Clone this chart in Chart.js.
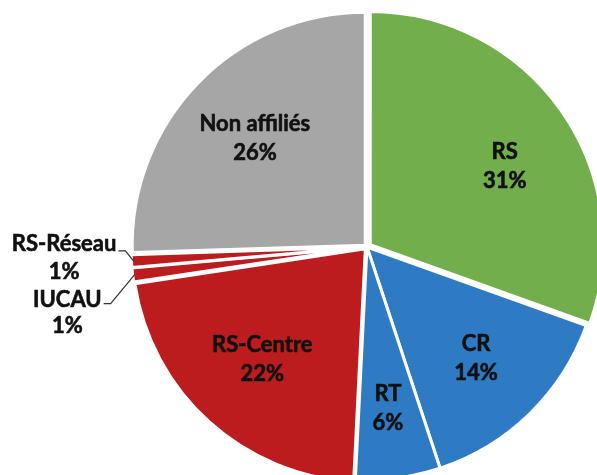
<!DOCTYPE html>
<html>
<head>
<meta charset="utf-8">
<script src="https://cdn.jsdelivr.net/npm/chart.js@4.4.1/dist/chart.umd.min.js"></script>
<style>
  html, body { margin: 0; padding: 0; width: 597px; height: 475px; overflow: hidden; background: #fff; }
  #wrap { position: absolute; left: 0; top: 0; width: 597px; height: 475px; }
</style>
</head>
<body>
<div id="wrap"><canvas id="c"></canvas></div>
<script>
// Data (clockwise from 12 o'clock)
const categories = ['RS', 'CR', 'RT', 'RS-Centre', 'IUCAU', 'RS-Réseau', 'Non affiliés'];
const shares = [30.6, 14.5, 5.9, 21.9, 1.0, 0.9, 25.6];
const percentLabels = ['31%', '14%', '6%', '22%', '1%', '1%', '26%'];
const sliceColors = ['#72AE4C', '#2E7BC4', '#2E7BC4', '#BC1C1E', '#BC1C1E', '#BC1C1E', '#A6A6A6'];
const sliceOffsets = [16, 0, 0, 10, 6, 6, 10];

const FONT = 'bold 22px Lato, "Open Sans", sans-serif';
const LINE = 29;
// small pixel nudges of the inside labels (style only)
const labelNudge = { 'RS': [10, 9], 'RT': [0, 7], 'RS-Centre': [0, -3] };

function drawText(ctx, s, x, y) {
  ctx.fillText(s, x, y);
  ctx.strokeText(s, x, y);
}

const labelPlugin = {
  id: 'sliceLabels',
  afterDatasetsDraw(chart) {
    const ctx = chart.ctx;
    const meta = chart.getDatasetMeta(0);
    ctx.save();
    ctx.font = FONT;
    ctx.textBaseline = 'middle';
    meta.data.forEach((arc, i) => {
      const p = arc.getProps(['x', 'y', 'startAngle', 'endAngle', 'outerRadius']);
      const mid = (p.startAngle + p.endAngle) / 2;
      const name = categories[i];
      const pct = percentLabels[i];
      ctx.fillStyle = '#111';
      ctx.strokeStyle = '#111';
      ctx.lineWidth = 0.6;
      if (shares[i] >= 3) {
        const d = p.outerRadius * 0.67;
        const n = labelNudge[name] || [0, 0];
        const cx = p.x + Math.cos(mid) * d + n[0];
        const cy = p.y + Math.sin(mid) * d + n[1];
        ctx.textAlign = 'center';
        drawText(ctx, name, cx, cy - LINE / 2);
        drawText(ctx, pct, cx, cy + LINE / 2);
      } else {
        // outside label with leader line
        const ax = p.x + Math.cos(mid) * p.outerRadius;
        const ay = p.y + Math.sin(mid) * p.outerRadius;
        const up = name === 'RS-Réseau';
        const ex = ax + (up ? -9 : -25);
        const ey = ay + (up ? -10 : 29);
        const hx = ex - 7;
        ctx.strokeStyle = '#333';
        ctx.lineWidth = 1.2;
        ctx.beginPath();
        ctx.moveTo(ax - 1, ay);
        ctx.lineTo(ex, ey);
        ctx.lineTo(hx, ey);
        ctx.stroke();
        ctx.strokeStyle = '#111';
        ctx.lineWidth = 0.6;
        const w = ctx.measureText(name).width;
        const right = hx - 2;
        const tcx = right - w / 2;
        const ty = ey - (up ? 7 : 4);
        ctx.textAlign = 'center';
        drawText(ctx, name, tcx, ty);
        drawText(ctx, pct, tcx, ty + (up ? 28 : 26));
      }
    });
    ctx.restore();
  }
};

new Chart(document.getElementById('c'), {
  type: 'pie',
  data: {
    labels: categories,
    datasets: [{
      data: shares,
      backgroundColor: sliceColors,
      borderColor: '#ffffff',
      borderWidth: 3,
      offset: sliceOffsets,
      radius: 233
    }]
  },
  options: {
    responsive: true,
    maintainAspectRatio: false,
    animation: false,
    layout: { padding: { left: 137, right: 0, top: 19, bottom: 0 } },
    plugins: { legend: { display: false }, tooltip: { enabled: false } }
  },
  plugins: [labelPlugin]
});
</script>
</body>
</html>
